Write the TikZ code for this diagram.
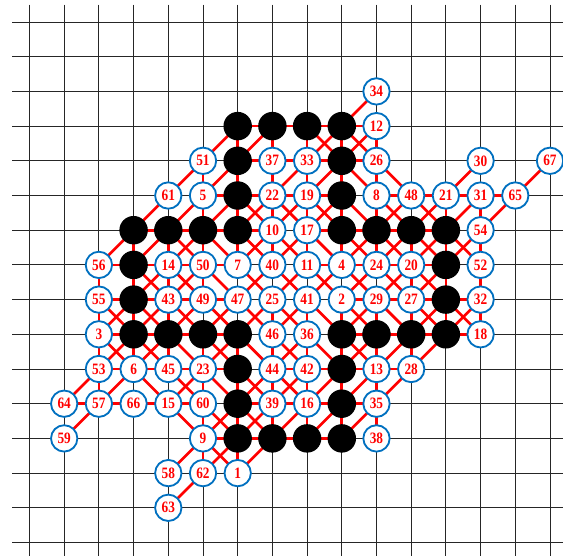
\documentclass[tikz,border=0pt]{standalone}
\usepackage{fontspec}
\newfontfamily\numfont{Liberation Serif}[FakeStretch=0.84]
\usetikzlibrary{backgrounds}
\definecolor{ringblue}{RGB}{0,112,192}
\begin{document}
\begin{tikzpicture}[x=1cm, y=1cm,
  num/.style={circle, draw=ringblue, line width=1.5pt, fill=white, minimum size=7.6mm, inner sep=0pt,
    text=red, font=\numfont\bfseries\fontsize{13}{13}\selectfont},
  stone/.style={circle, fill=black, minimum size=8.2mm, inner sep=0pt},
  gridline/.style={black!85, line width=0.7pt},
  fiveline/.style={red, line width=2.2pt}]
\useasboundingbox (-0.85,0.634) rectangle (15.375,-15.389);
\node[stone] (p6-3) at (6,-3) {};
\node[stone] (p7-3) at (7,-3) {};
\node[stone] (p8-3) at (8,-3) {};
\node[stone] (p9-3) at (9,-3) {};
\node[stone] (p6-4) at (6,-4) {};
\node[stone] (p9-4) at (9,-4) {};
\node[stone] (p6-5) at (6,-5) {};
\node[stone] (p9-5) at (9,-5) {};
\node[stone] (p3-6) at (3,-6) {};
\node[stone] (p4-6) at (4,-6) {};
\node[stone] (p5-6) at (5,-6) {};
\node[stone] (p6-6) at (6,-6) {};
\node[stone] (p9-6) at (9,-6) {};
\node[stone] (p10-6) at (10,-6) {};
\node[stone] (p11-6) at (11,-6) {};
\node[stone] (p12-6) at (12,-6) {};
\node[stone] (p3-7) at (3,-7) {};
\node[stone] (p12-7) at (12,-7) {};
\node[stone] (p3-8) at (3,-8) {};
\node[stone] (p12-8) at (12,-8) {};
\node[stone] (p3-9) at (3,-9) {};
\node[stone] (p4-9) at (4,-9) {};
\node[stone] (p5-9) at (5,-9) {};
\node[stone] (p6-9) at (6,-9) {};
\node[stone] (p9-9) at (9,-9) {};
\node[stone] (p10-9) at (10,-9) {};
\node[stone] (p11-9) at (11,-9) {};
\node[stone] (p12-9) at (12,-9) {};
\node[stone] (p6-10) at (6,-10) {};
\node[stone] (p9-10) at (9,-10) {};
\node[stone] (p6-11) at (6,-11) {};
\node[stone] (p9-11) at (9,-11) {};
\node[stone] (p6-12) at (6,-12) {};
\node[stone] (p7-12) at (7,-12) {};
\node[stone] (p8-12) at (8,-12) {};
\node[stone] (p9-12) at (9,-12) {};
\node[num] (p10-2) at (10,-2) {34};
\node[num] (p10-3) at (10,-3) {12};
\node[num] (p5-4) at (5,-4) {51};
\node[num] (p7-4) at (7,-4) {37};
\node[num] (p8-4) at (8,-4) {33};
\node[num] (p10-4) at (10,-4) {26};
\node[num] (p13-4) at (13,-4) {30};
\node[num] (p15-4) at (15,-4) {67};
\node[num] (p4-5) at (4,-5) {61};
\node[num] (p5-5) at (5,-5) {5};
\node[num] (p7-5) at (7,-5) {22};
\node[num] (p8-5) at (8,-5) {19};
\node[num] (p10-5) at (10,-5) {8};
\node[num] (p11-5) at (11,-5) {48};
\node[num] (p12-5) at (12,-5) {21};
\node[num] (p13-5) at (13,-5) {31};
\node[num] (p14-5) at (14,-5) {65};
\node[num] (p7-6) at (7,-6) {10};
\node[num] (p8-6) at (8,-6) {17};
\node[num] (p13-6) at (13,-6) {54};
\node[num] (p2-7) at (2,-7) {56};
\node[num] (p4-7) at (4,-7) {14};
\node[num] (p5-7) at (5,-7) {50};
\node[num] (p6-7) at (6,-7) {7};
\node[num] (p7-7) at (7,-7) {40};
\node[num] (p8-7) at (8,-7) {11};
\node[num] (p9-7) at (9,-7) {4};
\node[num] (p10-7) at (10,-7) {24};
\node[num] (p11-7) at (11,-7) {20};
\node[num] (p13-7) at (13,-7) {52};
\node[num] (p2-8) at (2,-8) {55};
\node[num] (p4-8) at (4,-8) {43};
\node[num] (p5-8) at (5,-8) {49};
\node[num] (p6-8) at (6,-8) {47};
\node[num] (p7-8) at (7,-8) {25};
\node[num] (p8-8) at (8,-8) {41};
\node[num] (p9-8) at (9,-8) {2};
\node[num] (p10-8) at (10,-8) {29};
\node[num] (p11-8) at (11,-8) {27};
\node[num] (p13-8) at (13,-8) {32};
\node[num] (p2-9) at (2,-9) {3};
\node[num] (p7-9) at (7,-9) {46};
\node[num] (p8-9) at (8,-9) {36};
\node[num] (p13-9) at (13,-9) {18};
\node[num] (p2-10) at (2,-10) {53};
\node[num] (p3-10) at (3,-10) {6};
\node[num] (p4-10) at (4,-10) {45};
\node[num] (p5-10) at (5,-10) {23};
\node[num] (p7-10) at (7,-10) {44};
\node[num] (p8-10) at (8,-10) {42};
\node[num] (p10-10) at (10,-10) {13};
\node[num] (p11-10) at (11,-10) {28};
\node[num] (p1-11) at (1,-11) {64};
\node[num] (p2-11) at (2,-11) {57};
\node[num] (p3-11) at (3,-11) {66};
\node[num] (p4-11) at (4,-11) {15};
\node[num] (p5-11) at (5,-11) {60};
\node[num] (p7-11) at (7,-11) {39};
\node[num] (p8-11) at (8,-11) {16};
\node[num] (p10-11) at (10,-11) {35};
\node[num] (p1-12) at (1,-12) {59};
\node[num] (p5-12) at (5,-12) {9};
\node[num] (p10-12) at (10,-12) {38};
\node[num] (p4-13) at (4,-13) {58};
\node[num] (p5-13) at (5,-13) {62};
\node[num] (p6-13) at (6,-13) {1};
\node[num] (p4-14) at (4,-14) {63};
\begin{scope}[on background layer]
\foreach \i in {0,...,15} {
  \draw[gridline] (\i,0.5) -- (\i,-15.5);
  \draw[gridline] (-0.5,-\i) -- (15.5,-\i);
}
\draw[fiveline] (p6-9.center) -- (p6-13.center);
\draw[fiveline] (p9-8.center) -- (p9-12.center);
\draw[fiveline] (p2-9.center) -- (p6-9.center);
\draw[fiveline] (p9-3.center) -- (p9-7.center);
\draw[fiveline] (p3-7.center) -- (p7-3.center);
\draw[fiveline] (p3-6.center) -- (p3-10.center);
\draw[fiveline] (p6-3.center) -- (p6-7.center);
\draw[fiveline] (p8-3.center) -- (p12-7.center);
\draw[fiveline] (p5-12.center) -- (p9-12.center);
\draw[fiveline] (p3-6.center) -- (p7-6.center);
\draw[fiveline] (p6-5.center) -- (p10-9.center);
\draw[fiveline] (p6-3.center) -- (p10-3.center);
\draw[fiveline] (p8-12.center) -- (p12-8.center);
\draw[fiveline] (p2-9.center) -- (p6-5.center);
\draw[fiveline] (p2-9.center) -- (p6-13.center);
\draw[fiveline] (p6-13.center) -- (p10-9.center);
\draw[fiveline] (p8-6.center) -- (p12-6.center);
\draw[fiveline] (p9-9.center) -- (p13-9.center);
\draw[fiveline] (p10-3.center) -- (p6-7.center);
\draw[fiveline] (p9-5.center) -- (p13-9.center);
\draw[fiveline] (p12-5.center) -- (p12-9.center);
\draw[fiveline] (p5-5.center) -- (p9-5.center);
\draw[fiveline] (p3-8.center) -- (p7-12.center);
\draw[fiveline] (p8-7.center) -- (p12-7.center);
\draw[fiveline] (p4-11.center) -- (p8-7.center);
\draw[fiveline] (p10-3.center) -- (p10-7.center);
\draw[fiveline] (p8-5.center) -- (p12-9.center);
\draw[fiveline] (p11-6.center) -- (p11-10.center);
\draw[fiveline] (p7-5.center) -- (p11-9.center);
\draw[fiveline] (p9-8.center) -- (p13-4.center);
\draw[fiveline] (p9-9.center) -- (p13-5.center);
\draw[fiveline] (p9-8.center) -- (p13-8.center);
\draw[fiveline] (p8-3.center) -- (p8-7.center);
\draw[fiveline] (p10-2.center) -- (p6-6.center);
\draw[fiveline] (p9-12.center) -- (p13-8.center);
\draw[fiveline] (p5-6.center) -- (p9-10.center);
\draw[fiveline] (p6-4.center) -- (p10-4.center);
\draw[fiveline] (p10-8.center) -- (p10-12.center);
\draw[fiveline] (p6-11.center) -- (p10-11.center);
\draw[fiveline] (p7-3.center) -- (p7-7.center);
\draw[fiveline] (p6-6.center) -- (p10-10.center);
\draw[fiveline] (p8-8.center) -- (p8-12.center);
\draw[fiveline] (p3-7.center) -- (p7-11.center);
\draw[fiveline] (p7-10.center) -- (p11-10.center);
\draw[fiveline] (p4-6.center) -- (p4-10.center);
\draw[fiveline] (p7-8.center) -- (p7-12.center);
\draw[fiveline] (p5-9.center) -- (p9-5.center);
\draw[fiveline] (p7-9.center) -- (p11-5.center);
\draw[fiveline] (p4-7.center) -- (p8-11.center);
\draw[fiveline] (p4-6.center) -- (p8-10.center);
\draw[fiveline] (p5-4.center) -- (p5-8.center);
\draw[fiveline] (p9-3.center) -- (p13-7.center);
\draw[fiveline] (p2-10.center) -- (p6-10.center);
\draw[fiveline] (p13-5.center) -- (p13-9.center);
\draw[fiveline] (p2-8.center) -- (p6-8.center);
\draw[fiveline] (p2-7.center) -- (p6-7.center);
\draw[fiveline] (p2-7.center) -- (p2-11.center);
\draw[fiveline] (p4-13.center) -- (p8-9.center);
\draw[fiveline] (p1-12.center) -- (p5-8.center);
\draw[fiveline] (p2-8.center) -- (p6-12.center);
\draw[fiveline] (p2-7.center) -- (p6-3.center);
\draw[fiveline] (p5-9.center) -- (p5-13.center);
\draw[fiveline] (p4-14.center) -- (p8-10.center);
\draw[fiveline] (p1-11.center) -- (p5-7.center);
\draw[fiveline] (p10-5.center) -- (p14-5.center);
\draw[fiveline] (p1-11.center) -- (p5-11.center);
\draw[fiveline] (p11-8.center) -- (p15-4.center);
\end{scope}
\end{tikzpicture}
\end{document}
